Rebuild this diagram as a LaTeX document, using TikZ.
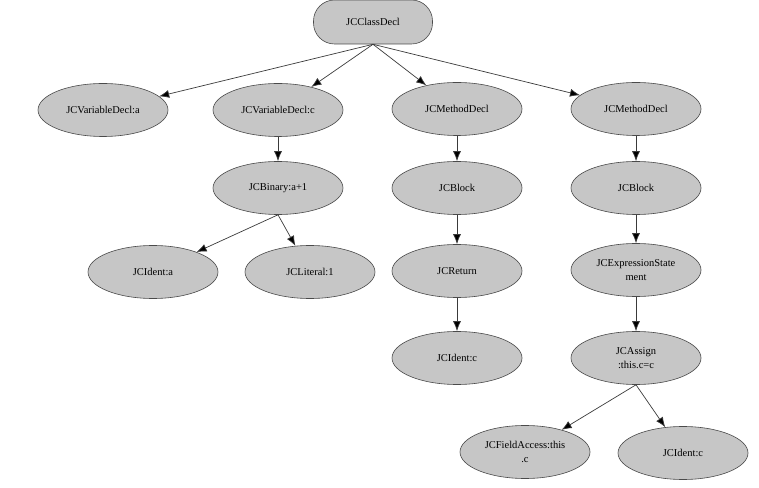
\documentclass[tikz,border=0pt]{standalone}
\usepackage{fontspec}
\setmainfont{Liberation Serif}
\usepackage{tikz}
\usetikzlibrary{shapes,arrows.meta,positioning}
\usepackage{xcolor}
\definecolor{nodefill}{HTML}{C6C6C6}
\definecolor{nodeline}{HTML}{4A4A4A}
\definecolor{edgeline}{HTML}{3A3A3A}

\tikzset{
  astnode/.style={ellipse, draw=nodeline, fill=nodefill, line width=0.6pt,
    minimum width=130pt, minimum height=53pt, inner sep=0pt, align=center,
    font=\fontsize{10.5}{14}\selectfont},
  rootnode/.style={rectangle, rounded corners=21pt, draw=nodeline, fill=nodefill,
    line width=0.6pt, minimum width=119pt, minimum height=44pt, inner sep=0pt,
    font=\fontsize{10.5}{14}\selectfont},
  edge/.style={draw=edgeline, line width=0.7pt,
    -{Latex[length=10pt,width=8pt,fill=black]}}
}

\begin{document}
\begin{tikzpicture}[x=1pt, y=1pt]
    \useasboundingbox (0,0) rectangle (759,487);
    % root
    \node[rootnode] (root) at (373,465) {JCClassDecl};
    % first level
    \node[astnode] (vara) at (103,377) {JCVariableDecl:a};
    \node[astnode] (varc) at (278,377) {JCVariableDecl:c};
    \node[astnode] (meth1) at (457,378) {JCMethodDecl};
    \node[astnode] (meth2) at (636,378) {JCMethodDecl};
    % second level
    \node[astnode] (bin) at (278,299) {JCBinary:a+1};
    \node[astnode] (blk1) at (457,299) {JCBlock};
    \node[astnode] (blk2) at (636,299) {JCBlock};
    % third level
    \node[astnode] (ida) at (153,215) {JCIdent:a};
    \node[astnode] (lit) at (310,215) {JCLiteral:1};
    \node[astnode] (ret) at (457,216) {JCReturn};
    \node[astnode] (expr) at (636,217) {JCExpressionState\\ment};
    % fourth level
    \node[astnode] (idc1) at (457,129) {JCIdent:c};
    \node[astnode] (asgn) at (636,129) {JCAssign\\:this.c=c};
    % fifth level
    \node[astnode] (fld) at (525,35) {JCFieldAccess:this\\.c};
    \node[astnode] (idc2) at (683,34) {JCIdent:c};
    % edges
    \foreach \child in {vara,varc,meth1,meth2}
        \draw[edge] (root.south) -- (\child);
    \draw[edge] (varc) -- (bin);
    \draw[edge] (bin.south) -- (ida);
    \draw[edge] (bin.south) -- (lit);
    \draw[edge] (meth1) -- (blk1);
    \draw[edge] (blk1) -- (ret);
    \draw[edge] (ret) -- (idc1);
    \draw[edge] (meth2) -- (blk2);
    \draw[edge] (blk2) -- (expr);
    \draw[edge] (expr) -- (asgn);
    \draw[edge] (asgn.south) -- (fld);
    \draw[edge] (asgn.south) -- (idc2);
\end{tikzpicture}
\end{document}
